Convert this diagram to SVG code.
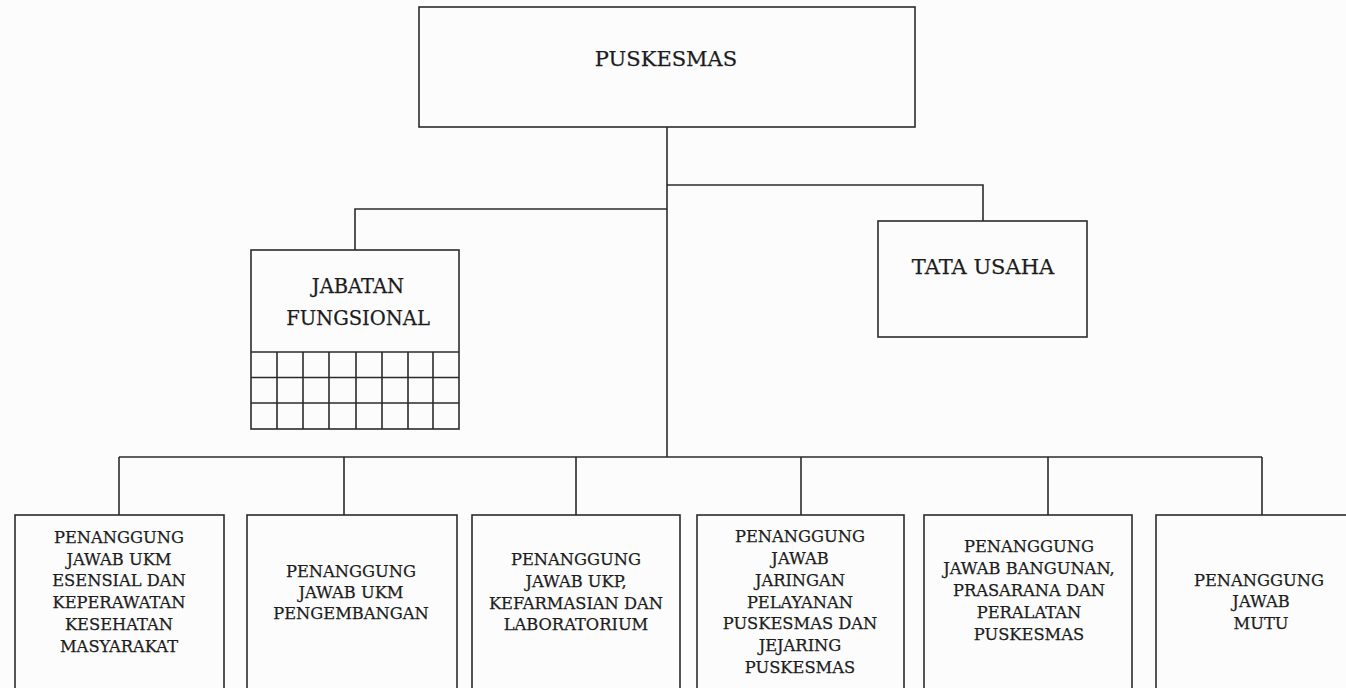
<svg xmlns="http://www.w3.org/2000/svg" width="1346" height="688" viewBox="0 0 1346 688">
<style>
.box{fill:none;stroke:#2b2b2b;stroke-width:1.6}
.ln{fill:none;stroke:#2b2b2b;stroke-width:1.6}
.grid{fill:none;stroke:#2b2b2b;stroke-width:1.6}
text{font-family:"DejaVu Serif","Liberation Serif",serif;fill:#1c1c1c;text-anchor:middle;stroke:#1c1c1c;stroke-width:0.25}
.big{font-size:21px}
.mid{font-size:19.5px}
.sm{font-size:16.3px}
</style>
<rect width="1346" height="688" fill="#fcfcfc"/>
<g id="connectors">
<path class="ln" d="M667,127 V457"/>
<path class="ln" d="M667,209 H355 V250"/>
<path class="ln" d="M667,185 H983 V221"/>
<path class="ln" d="M119,457 H1262"/>
<path class="ln" d="M119,457 V515 M344,457 V515 M576,457 V515 M801,457 V515 M1048,457 V515 M1262,457 V515"/>
</g>
<g id="puskesmas">
<rect class="box" x="419" y="7" width="496" height="120"/>
<text class="big" x="666" y="66">PUSKESMAS</text>
</g>
<g id="jabatan">
<rect class="box" x="251" y="250" width="208" height="179"/>
<text class="mid" x="358" y="293">JABATAN</text>
<text class="mid" x="358" y="325">FUNGSIONAL</text>
<path class="grid" d="M251,352 H459 M251,377.5 H459 M251,403 H459 M277,352 V429 M303,352 V429 M329,352 V429 M356,352 V429 M382,352 V429 M408,352 V429 M433,352 V429"/>
</g>
<g id="tatausaha">
<rect class="box" x="878" y="221" width="209" height="116"/>
<text class="big" x="983" y="274">TATA USAHA</text>
</g>
<g id="pj1">
<rect class="box" x="15" y="515" width="209" height="190"/>
<text class="sm" x="119" y="543">PENANGGUNG</text>
<text class="sm" x="119" y="564.5">JAWAB UKM</text>
<text class="sm" x="119" y="586">ESENSIAL DAN</text>
<text class="sm" x="119" y="608">KEPERAWATAN</text>
<text class="sm" x="119" y="629.5">KESEHATAN</text>
<text class="sm" x="119" y="651.5">MASYARAKAT</text>
</g>
<g id="pj2">
<rect class="box" x="247" y="515" width="210" height="190"/>
<text class="sm" x="351" y="577">PENANGGUNG</text>
<text class="sm" x="351" y="598">JAWAB UKM</text>
<text class="sm" x="351" y="619">PENGEMBANGAN</text>
</g>
<g id="pj3">
<rect class="box" x="472" y="515" width="208" height="190"/>
<text class="sm" x="576" y="565">PENANGGUNG</text>
<text class="sm" x="576" y="587">JAWAB UKP,</text>
<text class="sm" x="576" y="608.5">KEFARMASIAN DAN</text>
<text class="sm" x="576" y="630">LABORATORIUM</text>
</g>
<g id="pj4">
<rect class="box" x="697" y="515" width="207" height="190"/>
<text class="sm" x="800" y="542">PENANGGUNG</text>
<text class="sm" x="800" y="563.5">JAWAB</text>
<text class="sm" x="800" y="585.5">JARINGAN</text>
<text class="sm" x="800" y="607.5">PELAYANAN</text>
<text class="sm" x="800" y="629">PUSKESMAS DAN</text>
<text class="sm" x="800" y="651">JEJARING</text>
<text class="sm" x="800" y="673">PUSKESMAS</text>
</g>
<g id="pj5">
<rect class="box" x="924" y="515" width="208" height="190"/>
<text class="sm" x="1029" y="552">PENANGGUNG</text>
<text class="sm" x="1029" y="573.5">JAWAB BANGUNAN,</text>
<text class="sm" x="1029" y="596">PRASARANA DAN</text>
<text class="sm" x="1029" y="618">PERALATAN</text>
<text class="sm" x="1029" y="640">PUSKESMAS</text>
</g>
<g id="pj6">
<rect class="box" x="1156" y="515" width="212" height="190"/>
<text class="sm" x="1259" y="586">PENANGGUNG</text>
<text class="sm" x="1261" y="607">JAWAB</text>
<text class="sm" x="1261" y="629">MUTU</text>
</g>
</svg>
